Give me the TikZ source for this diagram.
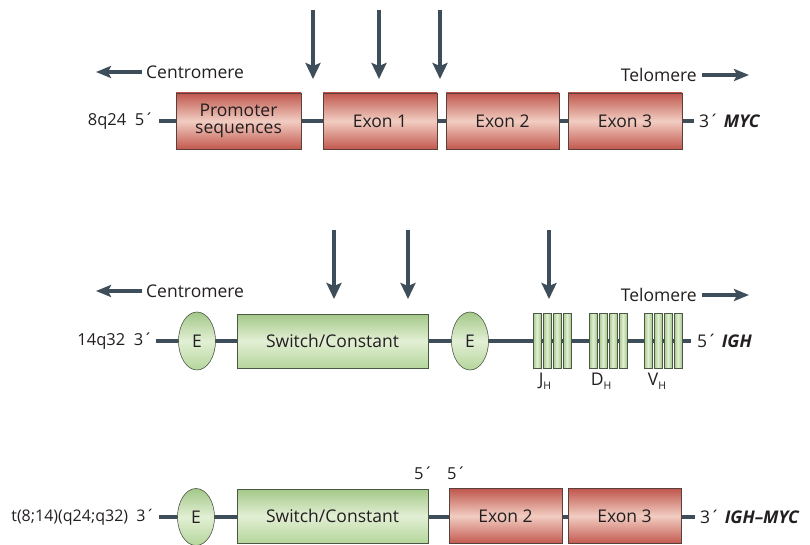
\documentclass[tikz,border=0pt]{standalone}
\usepackage{fontspec}
\setmainfont{Open Sans}
\usetikzlibrary{arrows.meta,shapes.geometric}
\definecolor{chrom}{HTML}{3D4E5A}
\definecolor{txt}{HTML}{231F20}
\definecolor{redtop}{HTML}{C0574D}
\definecolor{redmid}{HTML}{F2CDC2}
\definecolor{redbot}{HTML}{C3594F}
\definecolor{redline}{HTML}{5A403C}
\definecolor{grntop}{HTML}{A3C888}
\definecolor{grnmid}{HTML}{E2EFD4}
\definecolor{grnbot}{HTML}{B5D69C}
\definecolor{grnline}{HTML}{4C5846}
\newcommand{\subH}{\raisebox{-4pt}{\fontsize{10.5}{10}\selectfont H}}
\tikzset{
  wordfont/.style={font=\fontsize{17.5}{20}\selectfont},
  lbl/.style={text=txt, wordfont, inner sep=0pt},
  loc/.style={text=txt, font=\fontsize{16.5}{19}\selectfont, inner sep=0pt},
  dna/.style={draw=chrom, line width=3.2pt},
  redbox/.style={draw=redline, line width=0.6pt, rectangle, top color=redtop, bottom color=redbot, middle color=redmid,
    text=txt, wordfont, align=center, inner sep=0pt, minimum height=56pt},
  grnbox/.style={draw=grnline, line width=0.6pt, rectangle, top color=grntop, bottom color=grnbot, middle color=grnmid,
    text=txt, wordfont, inner sep=0pt, minimum height=54pt, minimum width=191pt},
  enh/.style={draw=grnline, line width=0.6pt, ellipse, top color=grntop, bottom color=grnbot, middle color=grnmid,
    text=txt, wordfont, inner sep=0pt, minimum width=37pt, minimum height=58pt},
  seg/.style={draw=grnline, line width=0.5pt, rectangle, left color=grntop, right color=grntop, middle color=grnmid,
    inner sep=0pt, minimum width=8pt, minimum height=55pt},
  brk/.style={chrom, line width=3.2pt, -{Stealth[length=16pt,width=15pt,inset=3pt]}},
  dir/.style={chrom, line width=3.2pt, -{Stealth[length=15pt,width=12pt,inset=3pt]}},
}
\begin{document}
\begin{tikzpicture}[x=1pt,y=-1pt]
\useasboundingbox (0,0) rectangle (810,545);

% ---------------- MYC locus on 8q24 ----------------
\coordinate (m0) at (159,121);
\coordinate (m1) at (694,121);
\draw[dna] (m0) -- (m1);
\node[loc, anchor=east] (mleft) at (154,121) {8q24\ \ 5´};
\node[lbl, anchor=west] (mright) at (699,121) {3´\ \textbf{\textit{MYC}}};
\node[redbox, minimum width=125pt] (prom) at (238.5,121) {Promoter\\[-3pt]sequences};
\node[redbox, minimum width=114pt] (mex1) at (380,121) {Exon 1};
\node[redbox, minimum width=113pt] (mex2) at (502.5,121) {Exon 2};
\node[redbox, minimum width=114pt] (mex3) at (625,121) {Exon 3};

\coordinate (ma1) at (313,10);
\coordinate (ma2) at (379,10);
\coordinate (ma3) at (440,10);
\coordinate (mb1) at (313,79);
\coordinate (mb2) at (379,79);
\coordinate (mb3) at (440,79);
\draw[brk] (ma1) -- (mb1);
\draw[brk] (ma2) -- (mb2);
\draw[brk] (ma3) -- (mb3);

\node[lbl, anchor=west] (cen1) at (146,72) {Centromere};
\coordinate (cen1t) at (96,72);
\draw[dir] (cen1.west) ++(-4,0) coordinate (cen1s) -- (cen1t);
\node[lbl, anchor=east] (tel1) at (697,75) {Telomere};
\coordinate (tel1t) at (749,75);
\draw[dir] (tel1.east) ++(5,0) coordinate (tel1s) -- (tel1t);

% ---------------- IGH locus on 14q32 ----------------
\coordinate (g0) at (156,341);
\coordinate (g1) at (691,341);
\draw[dna] (g0) -- (g1);
\node[loc, anchor=east] (gleft) at (153,341) {14q32\ \ 3´};
\node[lbl, anchor=west] (gright) at (697,341) {5´\ \textbf{\textit{IGH}}};
\node[enh] (ge1) at (197,341) {E};
\node[grnbox] (gsc) at (332.5,341) {Switch/Constant};
\node[enh] (ge2) at (470,341) {E};
\foreach \g/\x in {j/533, d/589, v/644}{
  \foreach \i in {0,...,3}{
    \node[seg] (\g\i) at ({\x+4+\i*10},341) {};
  }
}
\node[lbl, anchor=north] (jlab) at (545,373) {J\subH};
\node[lbl, anchor=north] (dlab) at (601,373) {D\subH};
\node[lbl, anchor=north] (vlab) at (657,373) {V\subH};

\coordinate (ga1) at (334,230);
\coordinate (ga2) at (408,230);
\coordinate (ga3) at (549,230);
\coordinate (gb1) at (334,299);
\coordinate (gb2) at (408,299);
\coordinate (gb3) at (549,299);
\draw[brk] (ga1) -- (gb1);
\draw[brk] (ga2) -- (gb2);
\draw[brk] (ga3) -- (gb3);

\node[lbl, anchor=west] (cen2) at (146,291) {Centromere};
\coordinate (cen2t) at (96,291);
\draw[dir] (cen2.west) ++(-4,0) coordinate (cen2s) -- (cen2t);
\node[lbl, anchor=east] (tel2) at (697,295) {Telomere};
\coordinate (tel2t) at (749,295);
\draw[dir] (tel2.east) ++(5,0) coordinate (tel2s) -- (tel2t);

% ---------------- t(8;14) fusion ----------------
\coordinate (t0) at (159,517);
\coordinate (t1) at (695,517);
\draw[dna] (t0) -- (t1);
\node[loc, anchor=east, font=\fontsize{16}{19}\selectfont] (tleft) at (155,517) {t(8;14)(q24;q32)\ \ 3´};
\node[lbl, anchor=west] (tright) at (700,517) {3´\ \textbf{\textit{IGH–MYC}}};
\node[enh, minimum height=57pt] (te) at (196,517) {E};
\node[grnbox] (tsc) at (332.5,516) {Switch/Constant};
\node[redbox, minimum width=113pt, minimum height=55pt] (tex2) at (505.5,516) {Exon 2};
\node[redbox, minimum width=113pt, minimum height=55pt] (tex3) at (624.5,516) {Exon 3};
\node[loc, anchor=west] (tp1) at (414,473) {5´};
\node[loc, anchor=west] (tp2) at (447,473) {5´};
\end{tikzpicture}
\end{document}
